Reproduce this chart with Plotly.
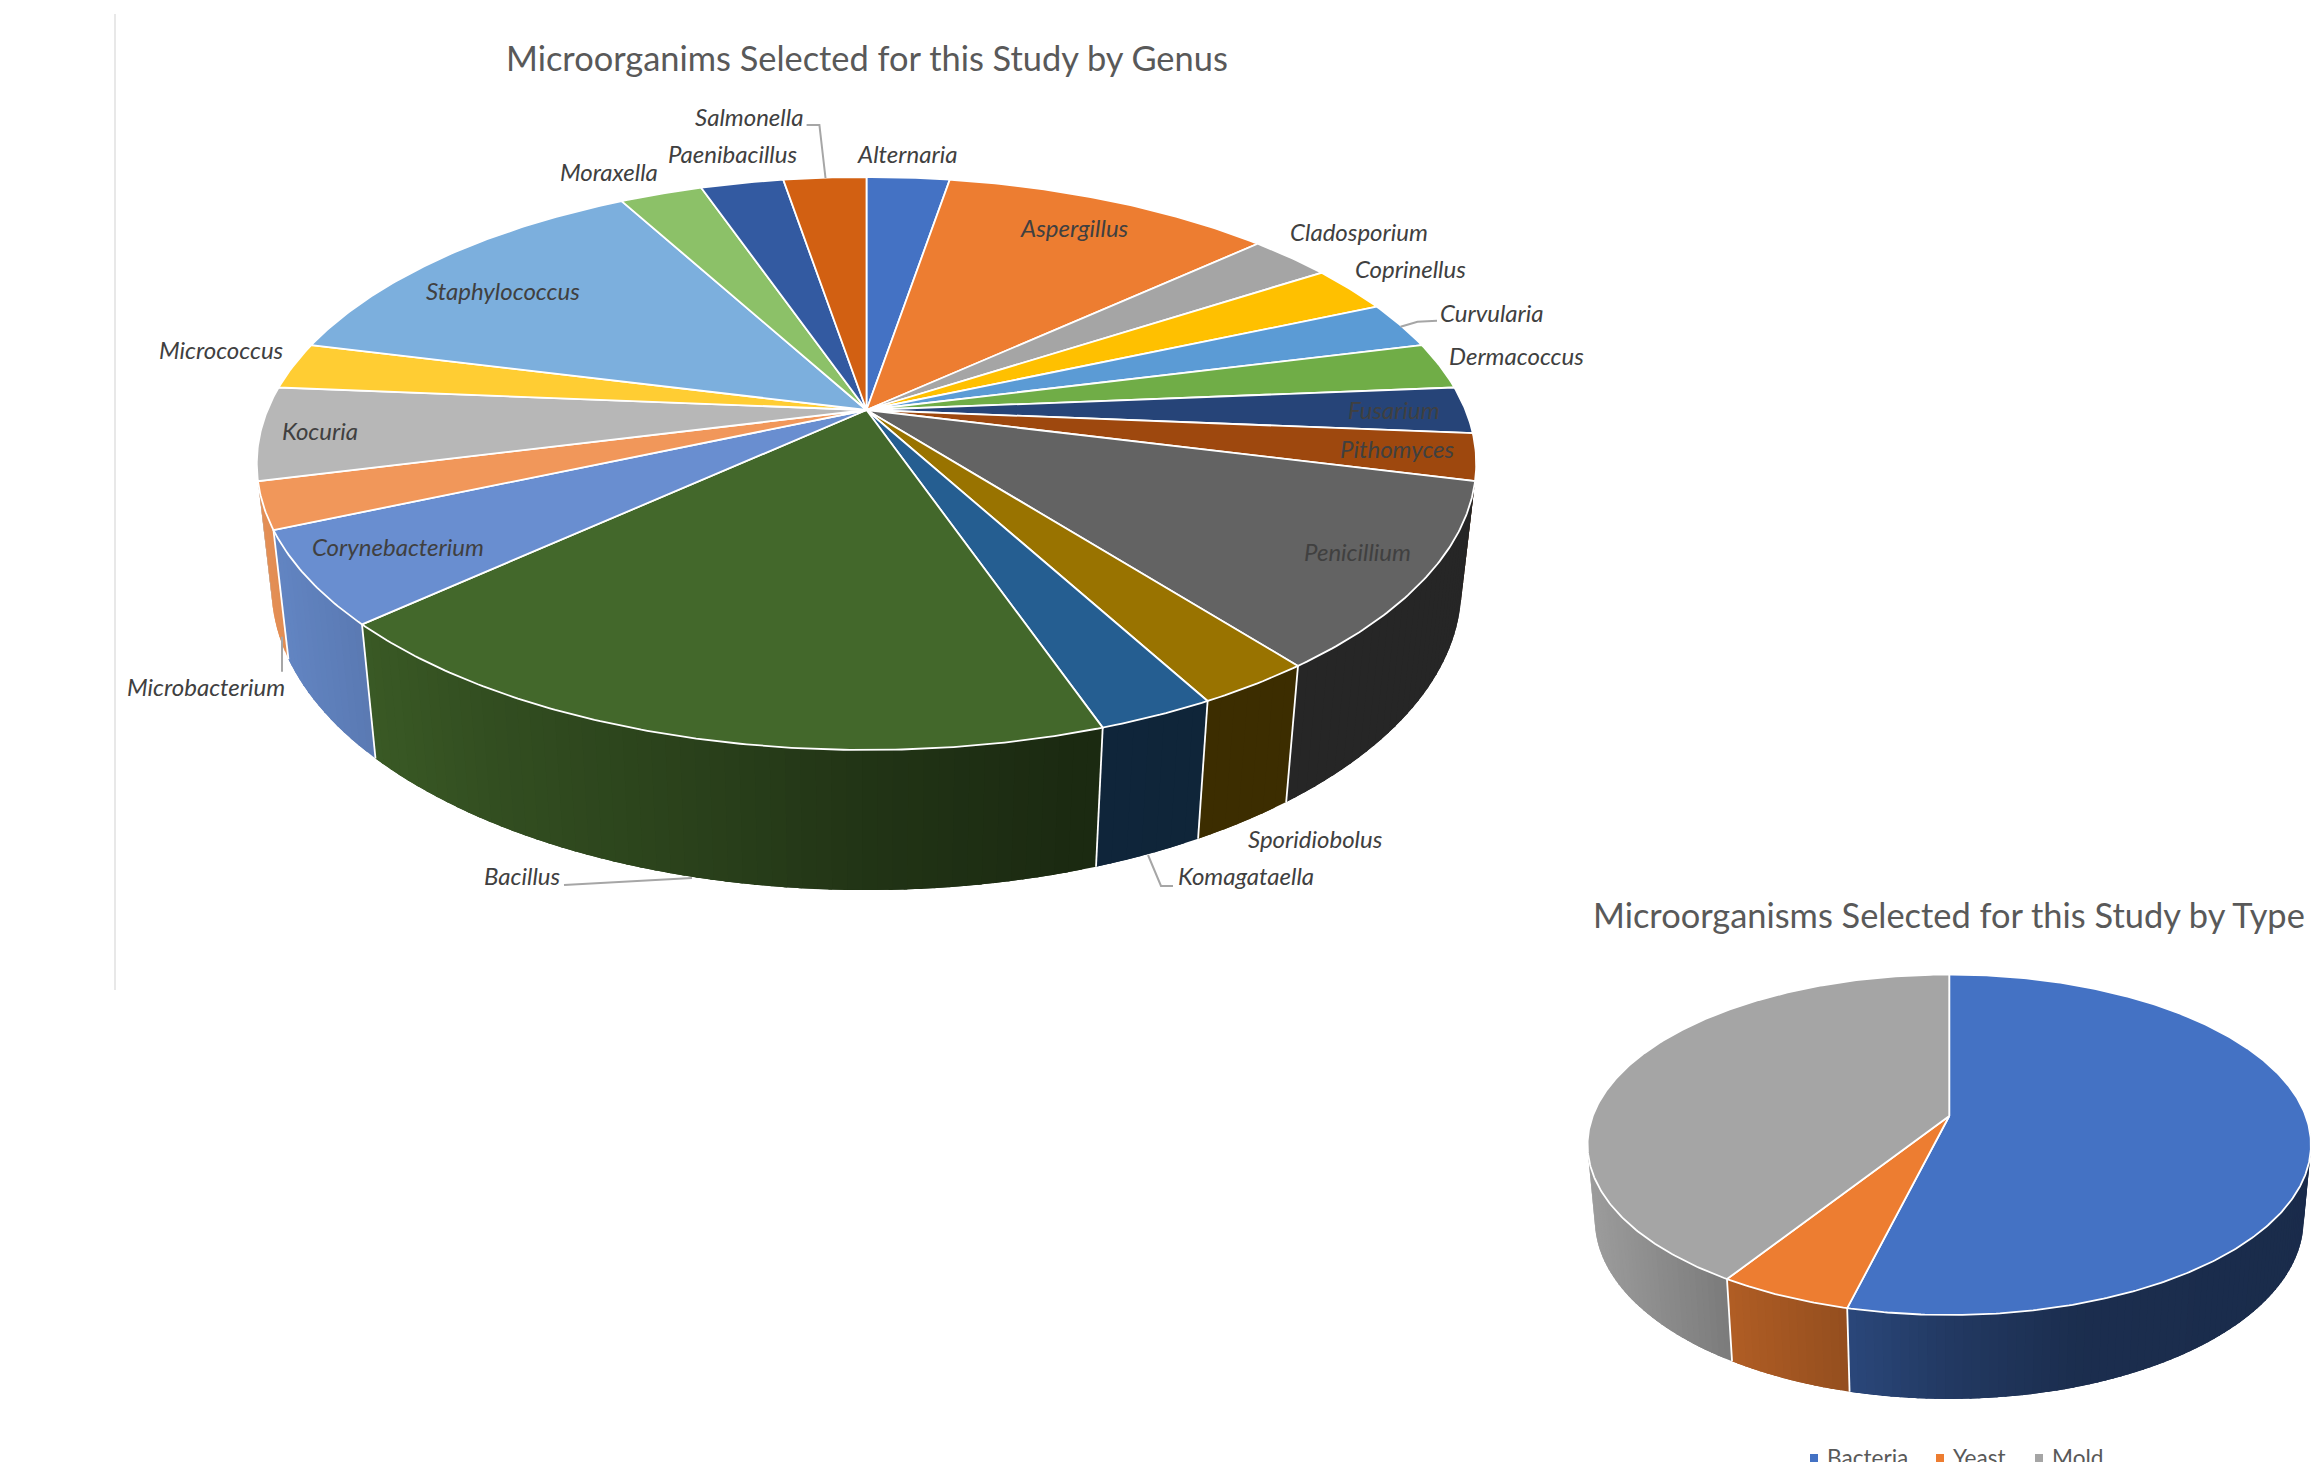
import numpy as np
import plotly.graph_objects as go

# Number of strains per genus, clockwise from twelve o'clock
GENUS_NAMES = ["Alternaria", "Aspergillus", "Cladosporium", "Coprinellus", "Curvularia",
               "Dermacoccus", "Fusarium", "Pithomyces", "Penicillium", "Sporidiobolus",
               "Komagataella", "Bacillus", "Corynebacterium", "Microbacterium", "Kocuria",
               "Micrococcus", "Staphylococcus", "Moraxella", "Paenibacillus", "Salmonella"]
GENUS_COUNTS = [1, 4, 1, 1, 1, 1, 1, 1, 4, 1, 1, 7, 2, 1, 2, 1, 5, 1, 1, 1]
GENUS_COLORS = ["#4472C4", "#ED7D31", "#A5A5A5", "#FFC000", "#5B9BD5", "#70AD47", "#264478",
                "#9E480E", "#636363", "#997300", "#255E91", "#43682B", "#698ED0", "#F1975A",
                "#B7B7B7", "#FFCD33", "#7CAFDD", "#8CC168", "#335AA1", "#D26012"]

TYPE_NAMES = ["Bacteria", "Yeast", "Mold"]
TYPE_COUNTS = [21, 2, 16]
TYPE_COLORS = ["#4472C4", "#ED7D31", "#A5A5A5"]

GENUS_TITLE = "Microorganims Selected for this Study by Genus"
TYPE_TITLE = "Microorganisms Selected for this Study by Type"

WIDTH, HEIGHT = 2311, 1462
FONT = "Lato"

# Perspective cameras for the two discs: horizontal/vertical scale, tilt and thickness terms
GENUS_DISC = dict(cx=866.5, cy=410, A=599, B=276.5, p=0.1867, C=125.5, q=0.024)
TYPE_DISC = dict(cx=1949.25, cy=1116, A=356.5, B=165.4, p=0.1689, C=75.4, q=0.02)

# Label centres on the canvas, keyed by genus
LABEL_AT = {
    "Alternaria": (906.5, 153.5), "Aspergillus": (1074.5, 227), "Cladosporium": (1359, 231.5),
    "Coprinellus": (1410.6, 268.5), "Curvularia": (1491.7, 312.5), "Dermacoccus": (1516.7, 355.5),
    "Fusarium": (1394, 409.5), "Pithomyces": (1397, 448), "Penicillium": (1357.6, 551.5),
    "Sporidiobolus": (1315, 838.5), "Komagataella": (1245.5, 875.5), "Bacillus": (522, 875.5),
    "Corynebacterium": (398, 546.5), "Microbacterium": (206, 686.5), "Kocuria": (320, 430.5),
    "Micrococcus": (221, 349.5), "Staphylococcus": (502.6, 290.5), "Moraxella": (609, 171),
    "Paenibacillus": (732.6, 153.5), "Salmonella": (749, 116.5),
}

# Leader lines for labels that sit away from their slice
LEADERS = [
    [(806.6, 125), (819.4, 125), (825.5, 178)],
    [(1437, 320.7), (1417.5, 321.7), (1400.5, 326.7)],
    [(282, 671.7), (282, 636.7)],
    [(564, 885), (692, 878)],
    [(1173, 886), (1161, 886), (1148, 855)],
]


def project(theta_deg, z, cam):
    """Map a rim angle (clockwise from the top) at depth z to canvas coordinates."""
    t = np.radians(np.asarray(theta_deg, dtype=float))
    x, y = np.sin(t), -np.cos(t)
    w = 1 - cam["p"] * y + cam["q"] * z
    return cam["cx"] + cam["A"] * x / w, cam["cy"] + (cam["B"] * y + cam["C"] * z) / w


def shade(hex_color, nx):
    """Darken a side wall colour from left to right across the disc."""
    f = np.interp(nx, [-1, -0.6, -0.3, 0, 0.35, 1], [0.95, 0.74, 0.63, 0.5, 0.40, 0.38])
    r, g, b = (int(hex_color[i:i + 2], 16) for i in (1, 3, 5))
    return f"rgb({r * f:.0f},{g * f:.0f},{b * f:.0f})"


def add_disc(fig, names, counts, colors, cam):
    counts = np.asarray(counts, dtype=float)
    edges = np.concatenate([[0], np.cumsum(counts)]) / counts.sum() * 360

    # Side wall: narrow strips painted in angle order, each overlapped by the next so
    # the gradient has no seams
    for a0, a1, col in zip(edges[:-1], edges[1:], colors):
        lo, hi = max(a0, 90), min(a1, 258)
        if hi <= lo:
            continue
        cuts = np.linspace(lo, hi, max(2, int((hi - lo) / 1.2) + 1))
        for c0, c1 in zip(cuts[:-1], cuts[1:]):
            arc = np.linspace(c0, min(c1 + 1.5, hi), 5)
            xt, yt = project(arc, 0, cam)
            xb, yb = project(arc[::-1], 1, cam)
            xm, _ = project((c0 + c1) / 2, 0, cam)
            c = shade(col, (xm - cam["cx"]) / (cam["A"] * 1.02))
            fig.add_trace(go.Scatter(x=np.r_[xt, xb, xt[0]], y=np.r_[yt, yb, yt[0]],
                                     mode="lines", fill="toself", fillcolor=c,
                                     line=dict(width=0), hoverinfo="skip"))

    # White seams between the side walls
    for a in edges:
        if 110 < a < 250:
            xt, yt = project(a, 0, cam)
            xb, yb = project(a, 1, cam)
            fig.add_trace(go.Scatter(x=[xt, xb], y=[yt, yb], mode="lines",
                                     line=dict(color="white", width=1.8), hoverinfo="skip"))

    # Top face wedges
    for name, a0, a1, col in zip(names, edges[:-1], edges[1:], colors):
        arc = np.linspace(a0, a1, max(3, int(a1 - a0) * 2))
        xr, yr = project(arc, 0, cam)
        xs = np.r_[cam["cx"], xr, cam["cx"]]
        ys = np.r_[cam["cy"], yr, cam["cy"]]
        fig.add_trace(go.Scatter(x=xs, y=ys, mode="lines", fill="toself", fillcolor=col,
                                 line=dict(color="white", width=1.8), name=name,
                                 hoverinfo="name"))


fig = go.Figure()

# Thin rule down the left of the genus chart
fig.add_trace(go.Scatter(x=[115, 115], y=[14, 990], mode="lines",
                         line=dict(color="#D9D9D9", width=1.2), hoverinfo="skip"))

add_disc(fig, GENUS_NAMES, GENUS_COUNTS, GENUS_COLORS, GENUS_DISC)
add_disc(fig, TYPE_NAMES, TYPE_COUNTS, TYPE_COLORS, TYPE_DISC)

for path in LEADERS:
    fig.add_trace(go.Scatter(x=[p[0] for p in path], y=[p[1] for p in path], mode="lines",
                             line=dict(color="#A6A6A6", width=2), hoverinfo="skip"))

annotations = []
for name in GENUS_NAMES:
    lx, ly = LABEL_AT[name]
    annotations.append(dict(x=lx, y=ly, text=name, showarrow=False, xanchor="center",
                            yanchor="middle",
                            font=dict(family=FONT, size=24, color="#404040", style="italic")))

for text, tx, ty in [(GENUS_TITLE, 867, 57.5), (TYPE_TITLE, 1949, 914)]:
    annotations.append(dict(x=tx, y=ty, text=text, showarrow=False, xanchor="center",
                            yanchor="middle", font=dict(family=FONT, size=34.4, color="#595959")))

# Legend row under the type chart
for name, col, mx in zip(TYPE_NAMES, TYPE_COLORS, (1814, 1940, 2039)):
    fig.add_trace(go.Scatter(x=[mx], y=[1458], mode="markers", hoverinfo="skip",
                             marker=dict(symbol="square", size=8, color=col)))
    annotations.append(dict(x=mx + 11, y=1457, text=name, showarrow=False, xanchor="left",
                            yanchor="middle", font=dict(family=FONT, size=22.6, color="#595959")))

fig.update_layout(
    width=WIDTH, height=HEIGHT, autosize=False, showlegend=False,
    margin=dict(l=0, r=0, t=0, b=0), paper_bgcolor="white", plot_bgcolor="white",
    xaxis=dict(range=[0, WIDTH], visible=False, fixedrange=True),
    yaxis=dict(range=[HEIGHT, 0], visible=False, fixedrange=True),
    annotations=annotations,
)

fig.write_html("out.html")
